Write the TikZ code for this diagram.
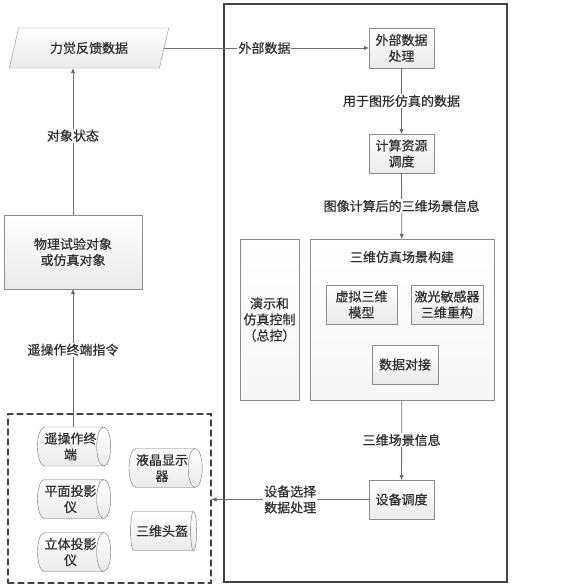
\documentclass[tikz,border=0pt]{standalone}
\usepackage{fontspec}
\newfontfamily\cjk[FakeBold=0.5]{Noto Sans CJK SC}
\usetikzlibrary{arrows.meta,shapes.geometric}
\definecolor{linegray}{HTML}{6E6E6E}
\definecolor{boxgray}{HTML}{8C8C8C}
\definecolor{txtgray}{HTML}{2E2E2E}
\definecolor{framegray}{HTML}{424242}

\begin{document}
\begin{tikzpicture}[x=1pt,y=-1pt,>={Triangle[length=5pt,width=4pt]},
  font=\cjk\fontsize{13}{16}\selectfont,line cap=round,
  box/.style={draw=boxgray,top color=white,bottom color=gray!16,text=txtgray,align=center,inner sep=0pt},
  pale/.style={box,bottom color=gray!7},
  drum/.style={cylinder,aspect=0.5,draw=boxgray!80!black,top color=white,bottom color=gray!16,text=txtgray,align=center,inner sep=0pt,minimum width=39,minimum height=66},
  para/.style={trapezium,trapezium left angle=67,trapezium right angle=113,trapezium stretches=true,draw=boxgray,top color=white,bottom color=gray!16,text=txtgray,inner sep=0pt},
  flow/.style={draw=linegray,line width=0.8pt},
  tag/.style={fill=white,text=txtgray,inner sep=1pt,align=center}]
\useasboundingbox (0,0) rectangle (572,587);
% system frame and device group
\node[draw=framegray,line width=2.2pt,minimum width=283,minimum height=578,inner sep=0pt] (sys) at (365.5,293) {};
\node[draw=framegray,line width=1.1pt,dash pattern=on 6pt off 4pt,minimum width=203,minimum height=169,inner sep=0pt] (grp) at (109.5,498.5) {};
% left column
\node[para,minimum width=160,minimum height=40] (fb) at (89,48) {力觉反馈数据};
\node[box,minimum width=138,minimum height=74] (obj) at (73,252) {物理试验对象\\或仿真对象};
\node[drum] (tel) at (70.5,446.5) {遥操作终\\端};
\node[drum] (plane) at (70.5,499) {平面投影\\仪};
\node[drum] (stereo) at (70.5,552) {立体投影\\仪};
\node[drum] (lcd) at (162,468) {液晶显示\\器};
\node[drum] (helmet) at (162,531) {三维头盔};
% right column
\node[box,minimum width=65,minimum height=40] (ext) at (401.5,48) {外部数据\\处理};
\node[box,minimum width=65,minimum height=39] (res) at (401.5,153.5) {计算资源\\调度};
\node[pale,minimum width=59,minimum height=161] (ctrl) at (269.5,319.5) {演示和\\仿真控制\\（总控）};
\node[pale,minimum width=184,minimum height=161] (scene) at (402,319.5) {};
\node[text=txtgray] (scenetitle) at (402,257) {三维仿真场景构建};
\node[box,minimum width=71,minimum height=39] (vm) at (361.5,304.5) {虚拟三维\\模型};
\node[box,minimum width=72,minimum height=39] (laser) at (447,304.5) {激光敏感器\\三维重构};
\node[box,minimum width=66,minimum height=39] (dock) at (405,364.5) {数据对接};
\node[box,minimum width=65,minimum height=39] (dev) at (401.5,499.5) {设备调度};
% connectors
\draw[flow,->] (fb.east |- ext.west) -- (ext.west) node[tag,pos=0.49]{外部数据};
\draw[flow,->] (ext) -- (res) node[tag,midway]{用于图形仿真的数据};
\draw[flow,->] (res) -- (scene) node[tag,midway]{图像计算后的三维场景信息};
\draw[flow,->] (scene) -- (dev) node[tag,midway]{三维场景信息};
\draw[flow,->] (dev.west) -- (grp.east |- dev.west) node[tag,midway]{设备选择\\数据处理};
\draw[flow,->] (obj.south |- tel.north) -- (obj.south) node[tag,pos=0.56]{遥操作终端指令};
\draw[flow,->] (obj.north) -- (obj.north |- fb.south) node[tag,pos=0.54]{对象状态};
\end{tikzpicture}
\end{document}
